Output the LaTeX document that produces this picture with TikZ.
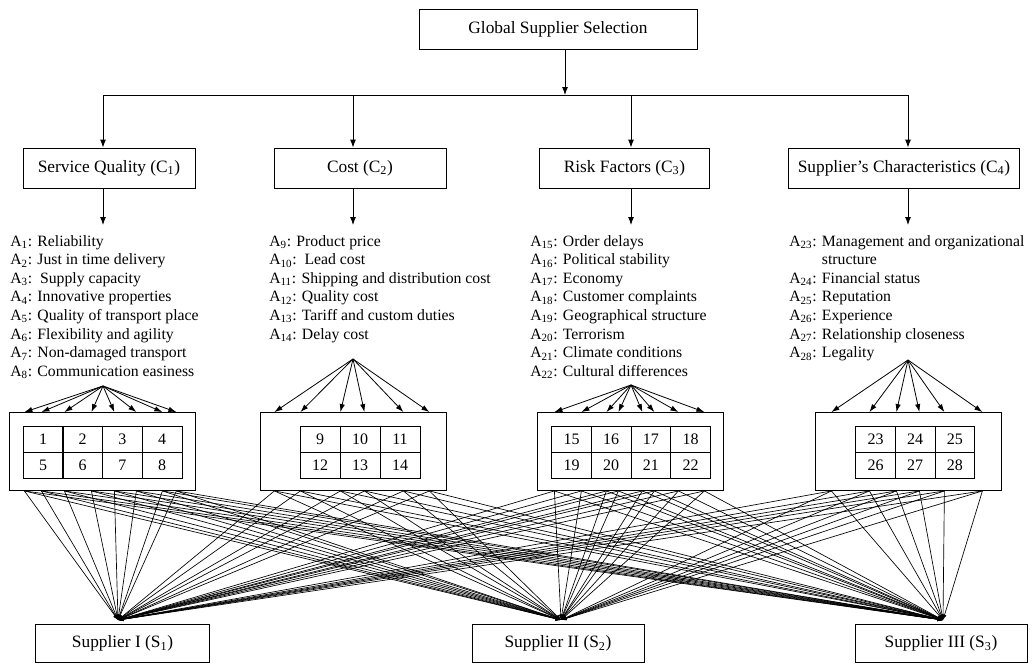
\documentclass[tikz,border=0pt]{standalone}
\usepackage{fontspec}
\setmainfont{Liberation Serif}
\usetikzlibrary{arrows.meta,positioning,calc}
\newcommand{\ix}[2]{#1\textsubscript{#2}}

\begin{document}
\begin{tikzpicture}[x=0.75pt, y=-0.75pt,
  box/.style={draw, line width=0.65pt, minimum height=30pt, inner sep=0pt, font=\fontsize{13}{15}\selectfont},
  grp/.style={draw, line width=0.65pt, minimum width=139pt, minimum height=58.5pt, inner sep=0pt},
  cell/.style={draw, line width=0.55pt, minimum width=29.8pt, minimum height=19.5pt, inner sep=0pt, font=\fontsize{12}{14}\selectfont},
  lst/.style={anchor=north west, align=left, inner sep=0pt, font=\fontsize{11.8}{13.93}\selectfont},
  arr/.style={-{Latex[length=6pt,width=4.5pt]}, line width=0.7pt},
  fan/.style={-{Latex[length=6pt,width=4pt]}, line width=0.6pt},
  link/.style={-{Latex[length=4pt,width=3pt]}, line width=0.5pt},
]
  \useasboundingbox (0,0) rectangle (1032,664);
  % --- goal and criteria ---
  \node[box, minimum width=208.5pt] (goal) at (558,29) {Global Supplier Selection};
  \node[box, minimum width=129pt] (sq) at (109,168) {Service Quality (\ix{C}{1})};
  \node[box, minimum width=129pt] (cost) at (360,168) {Cost (\ix{C}{2})};
  \node[box, minimum width=128pt] (risk) at (624.5,168) {Risk Factors (\ix{C}{3})};
  \node[box, minimum width=173pt] (char) at (904,168) {Supplier's Characteristics (\ix{C}{4})};
  \coordinate (bus) at (565,95);
  \coordinate (b1) at (103,95); \coordinate (b2) at (353,95);
  \coordinate (b3) at (631,95); \coordinate (b4) at (908,95);
  \draw[arr] (goal.south -| bus) -- (bus);
  \draw[line width=0.7pt] (b1) -- (b4);
  \draw[arr] (b1) -- (b1 |- sq.north);
  \draw[arr] (b2) -- (b2 |- cost.north);
  \draw[arr] (b3) -- (b3 |- risk.north);
  \draw[arr] (b4) -- (b4 |- char.north);
  \coordinate (d1) at (103,225); \coordinate (d2) at (353,225);
  \coordinate (d3) at (631,225); \coordinate (d4) at (908,225);
  \draw[arr] (d1 |- sq.south) -- (d1);
  \draw[arr] (d2 |- cost.south) -- (d2);
  \draw[arr] (d3 |- risk.south) -- (d3);
  \draw[arr] (d4 |- char.south) -- (d4);
  % --- attribute lists ---
  \node[lst] (l1) at (10,235) {\ix{A}{1}: Reliability\\ \ix{A}{2}: Just in time delivery\\
    \ix{A}{3}:\ \ Supply capacity\\ \ix{A}{4}: Innovative properties\\
    \ix{A}{5}: Quality of transport place\\ \ix{A}{6}: Flexibility and agility\\
    \ix{A}{7}: Non-damaged transport\\ \ix{A}{8}: Communication easiness};
  \node[lst] (l2) at (269,235) {\ix{A}{9}: Product price\\ \ix{A}{10}:\ \ Lead cost\\
    \ix{A}{11}: Shipping and distribution cost\\ \ix{A}{12}: Quality cost\\
    \ix{A}{13}: Tariff and custom duties\\ \ix{A}{14}: Delay cost};
  \node[lst] (l3) at (530,235) {\ix{A}{15}: Order delays\\ \ix{A}{16}: Political stability\\
    \ix{A}{17}: Economy\\ \ix{A}{18}: Customer complaints\\
    \ix{A}{19}: Geographical structure\\ \ix{A}{20}: Terrorism\\
    \ix{A}{21}: Climate conditions\\ \ix{A}{22}: Cultural differences};
  \node[lst] (l4) at (789,235) {\ix{A}{23}: Management and organizational\\
    \hphantom{\ix{A}{23}: }structure\\ \ix{A}{24}: Financial status\\
    \ix{A}{25}: Reputation\\ \ix{A}{26}: Experience\\
    \ix{A}{27}: Relationship closeness\\ \ix{A}{28}: Legality};
  % --- attribute groups ---
  \node[grp] (grp1) at (102.5,451.5) {};
  \node[grp] (grp2) at (353.5,451.5) {};
  \node[grp] (grp3) at (630.5,451.5) {};
  \node[grp] (grp4) at (908.5,451.5) {};
  \foreach \r in {0,1} \foreach \c in {0,...,3} {
    \pgfmathtruncatemacro\n{\r*4+\c+1}
    \node[cell] (a\n) at (43+\c*39.7,439+\r*26) {\n};
    \pgfmathtruncatemacro\n{\r*4+\c+15}
    \node[cell] (a\n) at (571.5+\c*39.7,439+\r*26) {\n};
  }
  \foreach \r in {0,1} \foreach \c in {0,1,2} {
    \pgfmathtruncatemacro\n{\r*3+\c+9}
    \node[cell] (a\n) at (320+\c*40,439+\r*26) {\n};
    \pgfmathtruncatemacro\n{\r*3+\c+23}
    \node[cell] (a\n) at (875.5+\c*39.7,439+\r*26) {\n};
  }
  % --- fans into the groups ---
  \coordinate (f1) at (103,386); \coordinate (f2) at (353,359);
  \coordinate (f3) at (631,385); \coordinate (f4) at (908,360);
  \foreach \x in {15,32,55,82,105,127,153,167}
    \draw[fan] (f1) -- ($(grp1.north west)+(\x,0)$);
  \foreach \x in {14,40,80,104,143,169}
    \draw[fan] (f2) -- ($(grp2.north west)+(\x,0)$);
  \foreach \x in {17,44,69,81,105,117,141,167}
    \draw[fan] (f3) -- ($(grp3.north west)+(\x,0)$);
  \foreach \x in {16,54,81,104,129,167}
    \draw[fan] (f4) -- ($(grp4.north west)+(\x,0)$);
  % --- suppliers ---
  \node[box, minimum width=130pt, minimum height=29pt] (s1) at (122.5,643.5) {Supplier I (\ix{S}{1})};
  \node[box, minimum width=129pt, minimum height=29pt] (s2) at (558,643.5) {Supplier II (\ix{S}{2})};
  \node[box, minimum width=129pt, minimum height=29pt] (s3) at (941,643.5) {Supplier III (\ix{S}{3})};
  \coordinate (t1) at (118,620); \coordinate (t2) at (561,620); \coordinate (t3) at (943,620);
  \foreach \s in {t1,t2,t3} {
    \foreach \x in {15,32,55,82,105,127,153,167}
      \draw[link] ($(grp1.south west)+(\x,0)$) -- (\s);
    \foreach \x in {14,40,80,104,143,169}
      \draw[link] ($(grp2.south west)+(\x,0)$) -- (\s);
    \foreach \x in {17,44,69,81,105,117,141,167}
      \draw[link] ($(grp3.south west)+(\x,0)$) -- (\s);
    \foreach \x in {16,54,81,104,129,167}
      \draw[link] ($(grp4.south west)+(\x,0)$) -- (\s);
  }
\end{tikzpicture}
\end{document}
